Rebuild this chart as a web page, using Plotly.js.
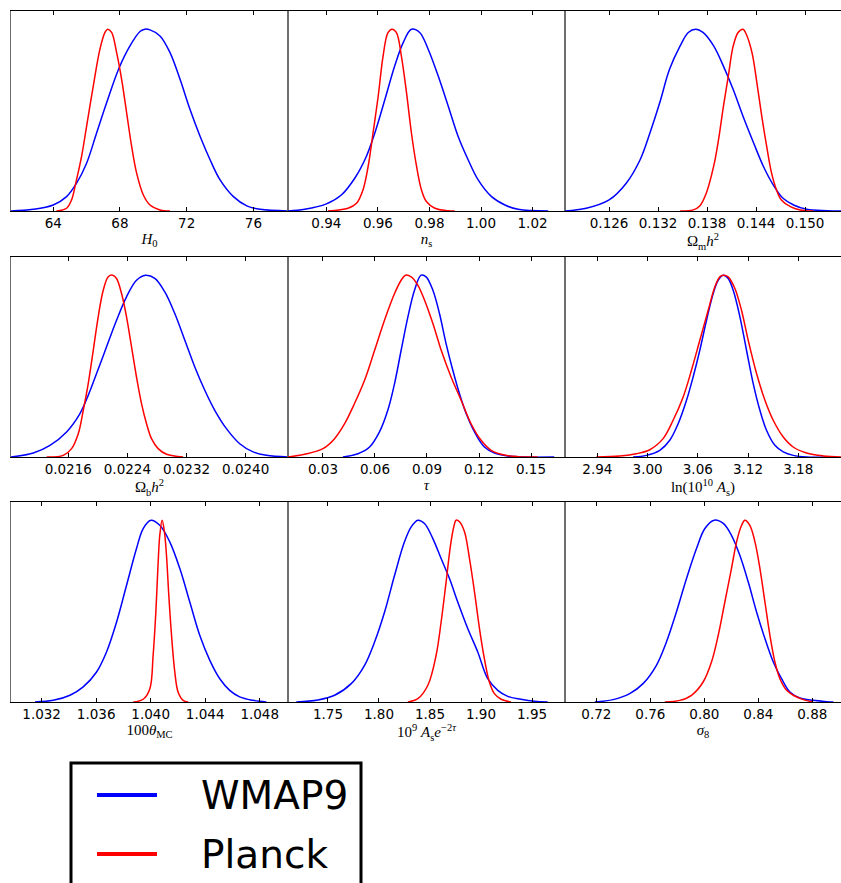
<!DOCTYPE html>
<html><head><meta charset="utf-8">
<script src="https://cdn.plot.ly/plotly-3.0.1.min.js"></script>
<style>html,body{margin:0;padding:0;background:#fff;} #chart{width:841px;height:883px;}</style>
</head><body><div id="chart"></div>
<script>
// ---- Data (normalised 1D posteriors, peak = 1) ----
const seriesNames = ["WMAP9", "Planck"];

// H0
const h0WmapX = [61.46,62.8,64.0,64.8,65.4,66.0,66.6,67.2,67.94,68.6,69.2,69.5,69.8,70.4,71.0,71.6,72.2,72.8,73.4,74.0,74.8,75.6,76.4,78.1];
const h0WmapY = [0,0.009,0.033,0.079,0.153,0.263,0.429,0.595,0.785,0.908,0.987,1,0.996,0.963,0.871,0.724,0.558,0.411,0.282,0.171,0.079,0.028,0.009,0];
const h0PlanckX = [64.2,64.8,65.1,65.36,65.7,66.0,66.4,66.8,67.1,67.26,67.5,67.8,68.1,68.4,68.7,69.0,69.4,69.8,70.4,71.0];
const h0PlanckY = [0,0.015,0.061,0.157,0.300,0.466,0.687,0.890,0.982,1,0.982,0.871,0.724,0.540,0.355,0.208,0.088,0.033,0.006,0];
const h0Ticks = [64,68,72,76];

// n_s
const nsWmapX = [0.9251,0.9316,0.94,0.9458,0.9510,0.9555,0.9588,0.9627,0.9665,0.9698,0.9730,0.9762,0.9795,0.9834,0.9873,0.9911,0.9950,0.9989,1.0041,1.0093,1.0144,1.0261];
const nsWmapY = [0,0.009,0.039,0.088,0.180,0.300,0.429,0.613,0.797,0.926,1,0.982,0.890,0.742,0.576,0.411,0.282,0.171,0.079,0.033,0.009,0];
const nsPlanckX = [0.9406,0.9484,0.9517,0.9542,0.9562,0.9581,0.9601,0.9620,0.9639,0.9655,0.9672,0.9691,0.9711,0.9730,0.9750,0.9769,0.9788,0.9821,0.9873,0.9898];
const nsPlanckY = [0,0.015,0.042,0.116,0.245,0.429,0.631,0.852,0.981,1,0.981,0.852,0.650,0.429,0.245,0.116,0.052,0.015,0.002,0];
const nsTicks = [0.94,0.96,0.98,1.00,1.02];

// Omega_m h^2
const omWmapX = [0.1206,0.1232,0.1260,0.1281,0.1298,0.1310,0.1322,0.1334,0.1347,0.1357,0.1366,0.1375,0.1388,0.1400,0.1412,0.1424,0.1437,0.1449,0.1461,0.1473,0.1486,0.1502,0.1527,0.1544];
const omWmapY = [0,0.015,0.061,0.153,0.282,0.429,0.595,0.779,0.908,0.982,1,0.982,0.908,0.797,0.668,0.521,0.374,0.245,0.144,0.070,0.033,0.009,0.002,0];
const omPlanckX = [0.1347,0.1363,0.1371,0.1379,0.1388,0.1394,0.1400,0.1406,0.1412,0.1418,0.1424,0.1428,0.1435,0.1441,0.1447,0.1453,0.1459,0.1465,0.1471,0.1482,0.1494,0.1510];
const omPlanckY = [0,0.006,0.028,0.098,0.245,0.392,0.576,0.742,0.908,0.982,1,0.972,0.871,0.705,0.521,0.355,0.208,0.116,0.061,0.024,0.006,0];
const omTicks = [0.126,0.132,0.138,0.144,0.150];

// Omega_b h^2
const obWmapX = [0.020825,0.021127,0.021352,0.021577,0.021758,0.021870,0.021983,0.022118,0.022253,0.022388,0.022523,0.022645,0.022771,0.022906,0.023041,0.023177,0.023312,0.023447,0.023582,0.023740,0.023920,0.024100,0.024280,0.024573];
const obWmapY = [0,0.022,0.064,0.138,0.239,0.339,0.459,0.606,0.752,0.881,0.972,1,0.982,0.908,0.789,0.642,0.495,0.367,0.257,0.156,0.073,0.028,0.009,0];
const obPlanckX = [0.021307,0.021532,0.021645,0.021735,0.021803,0.021870,0.021938,0.022005,0.022073,0.022141,0.022199,0.022253,0.022321,0.022388,0.022456,0.022523,0.022591,0.022659,0.022726,0.022816,0.022929,0.023154];
const obPlanckY = [0,0.009,0.046,0.128,0.257,0.404,0.587,0.771,0.917,0.991,1,0.982,0.899,0.771,0.606,0.440,0.294,0.183,0.101,0.046,0.015,0];
const obTicks = [0.0216,0.0224,0.0232,0.0240];

// tau
const tauWmapX = [0.0415,0.0502,0.0569,0.0626,0.0674,0.0713,0.0751,0.0790,0.0828,0.0866,0.0895,0.0934,0.0972,0.1010,0.1049,0.1087,0.1126,0.1174,0.1231,0.1289,0.1366,0.1462,0.1634];
const tauWmapY = [0,0.018,0.055,0.138,0.257,0.404,0.587,0.771,0.917,1,0.991,0.917,0.789,0.624,0.477,0.349,0.239,0.138,0.055,0.022,0.006,0,0];
const tauPlanckX = [0.0098,0.0194,0.0300,0.0367,0.0425,0.0482,0.0540,0.0598,0.0655,0.0713,0.0751,0.0776,0.0809,0.0847,0.0886,0.0934,0.0982,0.1039,0.1097,0.1154,0.1212,0.1270,0.1346,0.1423,0.1538];
const tauPlanckY = [0,0.015,0.046,0.101,0.183,0.294,0.422,0.587,0.752,0.899,0.972,1,0.991,0.945,0.862,0.734,0.587,0.440,0.312,0.183,0.092,0.037,0.011,0.002,0];
const tauTicks = [0.03,0.06,0.09,0.12,0.15];

// ln(10^10 A_s)
const lnaWmapX = [2.9827,2.9986,3.0146,3.0265,3.0365,3.0465,3.0544,3.0624,3.0704,3.0784,3.0843,3.0903,3.0963,3.1023,3.1103,3.1182,3.1262,3.1342,3.1421,3.1521,3.1621,3.1740,3.1900,3.2139];
const lnaWmapY = [0,0.009,0.037,0.092,0.183,0.312,0.440,0.587,0.752,0.899,0.972,1,0.982,0.917,0.771,0.587,0.404,0.257,0.147,0.064,0.028,0.009,0,0];
const lnaPlanckX = [2.9388,2.9667,2.9867,3.0026,3.0185,3.0305,3.0425,3.0524,3.0624,3.0724,3.0804,3.0863,3.0903,3.0963,3.1043,3.1122,3.1202,3.1302,3.1402,3.1501,3.1621,3.1740,3.1900,3.2099,3.2311];
const lnaPlanckY = [0,0.006,0.018,0.040,0.101,0.202,0.330,0.477,0.642,0.807,0.936,0.991,1,0.991,0.927,0.807,0.642,0.459,0.312,0.202,0.110,0.055,0.022,0.006,0];
const lnaTicks = [2.94,3.00,3.06,3.12,3.18];

// 100 theta_MC
const thWmapX = [1.03151,1.03285,1.03408,1.03505,1.03603,1.03676,1.03750,1.03823,1.03896,1.03945,1.04001,1.04067,1.04140,1.04214,1.04287,1.04360,1.04434,1.04507,1.04580,1.04653,1.04751,1.04849];
const thWmapY = [0,0.009,0.037,0.083,0.165,0.275,0.440,0.642,0.844,0.954,1,0.972,0.881,0.734,0.550,0.367,0.229,0.128,0.064,0.028,0.009,0];
const thPlanckX = [1.03872,1.03945,1.03994,1.04018,1.04038,1.04055,1.04067,1.04084,1.04101,1.04116,1.04133,1.04153,1.04177,1.04201,1.04238,1.04275];
const thPlanckY = [0,0.015,0.073,0.257,0.495,0.771,0.917,1,0.936,0.807,0.587,0.367,0.165,0.055,0.009,0];
const thTicks = [1.032,1.036,1.040,1.044,1.048];

// 10^9 A_s e^{-2tau}
const aeWmapX = [1.7190,1.7402,1.7565,1.7728,1.7859,1.7957,1.8055,1.8153,1.8250,1.8316,1.8381,1.8446,1.8528,1.8609,1.8691,1.8772,1.8870,1.8968,1.9066,1.9164,1.9262,1.9392,1.9523,1.9653];
const aeWmapY = [0,0.011,0.037,0.101,0.202,0.330,0.495,0.697,0.881,0.963,1,0.982,0.899,0.789,0.679,0.550,0.404,0.275,0.128,0.064,0.031,0.015,0.004,0];
const aePlanckX = [1.8283,1.8381,1.8479,1.8560,1.8609,1.8658,1.8701,1.8733,1.8756,1.8789,1.8838,1.8887,1.8936,1.8985,1.9033,1.9082,1.9131,1.9197,1.9294];
const aePlanckY = [0,0.018,0.092,0.257,0.440,0.661,0.862,0.963,1,0.991,0.936,0.789,0.606,0.404,0.239,0.110,0.046,0.015,0];
const aeTicks = [1.75,1.80,1.85,1.90,1.95];

// sigma_8
const s8WmapX = [0.7188,0.7324,0.7447,0.7546,0.7645,0.7719,0.7793,0.7868,0.7942,0.8004,0.8073,0.8140,0.8201,0.8263,0.8325,0.8387,0.8449,0.8511,0.8572,0.8634,0.8708,0.8807,0.8906,0.8956];
const s8WmapY = [0,0.013,0.046,0.101,0.202,0.330,0.495,0.679,0.844,0.954,1,0.982,0.917,0.807,0.661,0.495,0.349,0.220,0.128,0.055,0.022,0.009,0.002,0];
const s8PlanckX = [0.7707,0.7818,0.7905,0.7991,0.8053,0.8103,0.8152,0.8201,0.8239,0.8276,0.8300,0.8337,0.8375,0.8412,0.8449,0.8486,0.8523,0.8560,0.8610,0.8659,0.8733,0.8807];
const s8PlanckY = [0,0.009,0.037,0.110,0.220,0.367,0.550,0.734,0.881,0.972,1,0.972,0.881,0.734,0.550,0.367,0.220,0.128,0.064,0.037,0.013,0];
const s8Ticks = [0.72,0.76,0.80,0.84,0.88];

const axisLabels = [
  "<i>H</i><sub>0</sub>",
  "<i>n</i><sub>s</sub>",
  "Ω<sub>m</sub><i>h</i><sup>2</sup>",
  "Ω<sub>b</sub><i>h</i><sup>2</sup>",
  "<i>τ</i>",
  "ln(10<sup>10</sup> <i>A</i><sub>s</sub>)",
  "100<i>θ</i><sub>MC</sub>",
  "10<sup>9</sup> <i>A</i><sub>s</sub><i>e</i><sup>−2<i>τ</i></sup>",
  "<i>σ</i><sub>8</sub>"
];

// ---- Build traces / layout ----
const panels = [
  {wx:h0WmapX, wy:h0WmapY, px:h0PlanckX, py:h0PlanckY, ticks:h0Ticks, fmt:"d"},
  {wx:nsWmapX, wy:nsWmapY, px:nsPlanckX, py:nsPlanckY, ticks:nsTicks, fmt:".2f"},
  {wx:omWmapX, wy:omWmapY, px:omPlanckX, py:omPlanckY, ticks:omTicks, fmt:".3f"},
  {wx:obWmapX, wy:obWmapY, px:obPlanckX, py:obPlanckY, ticks:obTicks, fmt:".4f"},
  {wx:tauWmapX, wy:tauWmapY, px:tauPlanckX, py:tauPlanckY, ticks:tauTicks, fmt:".2f"},
  {wx:lnaWmapX, wy:lnaWmapY, px:lnaPlanckX, py:lnaPlanckY, ticks:lnaTicks, fmt:".2f"},
  {wx:thWmapX, wy:thWmapY, px:thPlanckX, py:thPlanckY, ticks:thTicks, fmt:".3f"},
  {wx:aeWmapX, wy:aeWmapY, px:aePlanckX, py:aePlanckY, ticks:aeTicks, fmt:".2f"},
  {wx:s8WmapX, wy:s8WmapY, px:s8PlanckX, py:s8PlanckY, ticks:s8Ticks, fmt:".2f"}
];
const xRanges = [
  [61.47,78.07],[0.9251,1.0326],[0.1206,0.1544],
  [0.020825,0.024573],[0.00984,0.1696],[2.9013,3.2311],
  [1.029753,1.050075],[1.71085,1.9823],[0.69676,0.90126]
];
const W = 841, H = 883;
const colPx = [[11,288],[288,565],[565,841]];
const rowPx = [[11,211],[257,457],[502,702]];
const colors = ["#0000ff", "#ff0000"];

const traces = [];
const layout = {
  width: W, height: H,
  margin: {l:0, r:0, t:0, b:0},
  paper_bgcolor: "#ffffff", plot_bgcolor: "#ffffff",
  showlegend: false,
  font: {family: "DejaVu Sans", color: "#000"},
  shapes: [],
  annotations: []
};

panels.forEach((p, i) => {
  const n = i + 1;
  const xa = n === 1 ? "x" : "x" + n;
  const ya = n === 1 ? "y" : "y" + n;
  traces.push({x: p.wx, y: p.wy, xaxis: xa, yaxis: ya, type: "scatter", mode: "lines", name: seriesNames[0],
    line: {color: colors[0], width: 1.5, shape: "spline", smoothing: 1}, hoverinfo: "skip"});
  traces.push({x: p.px, y: p.py, xaxis: xa, yaxis: ya, type: "scatter", mode: "lines", name: seriesNames[1],
    line: {color: colors[1], width: 1.5, shape: "spline", smoothing: 1}, hoverinfo: "skip"});
  const r = Math.floor(i / 3), c = i % 3;
  const xk = n === 1 ? "xaxis" : "xaxis" + n;
  const yk = n === 1 ? "yaxis" : "yaxis" + n;
  layout[xk] = {
    domain: [colPx[c][0]/W, colPx[c][1]/W], anchor: ya, range: xRanges[i],
    tickvals: p.ticks, tickformat: p.fmt, ticks: "inside", ticklen: 4, tickwidth: 1, tickcolor: "#000",
    showline: true, linecolor: "#000", linewidth: 1, mirror: "allticks",
    showgrid: false, zeroline: false,
    tickfont: {family: "DejaVu Sans", size: 13.5, color: "#000"},
    title: {text: axisLabels[i], font: {family: "Liberation Serif", size: 15, color: "#000"}, standoff: 3},
    automargin: false, fixedrange: true
  };
  layout[yk] = {
    domain: [1 - rowPx[r][1]/H, 1 - rowPx[r][0]/H], anchor: xa, range: [0, 1.1],
    showticklabels: false, ticks: "", showline: true, linecolor: "#6e6e6e", linewidth: 1, mirror: true,
    showgrid: false, zeroline: false, automargin: false, fixedrange: true
  };
});

// ---- Legend box (drawn in paper coordinates) ----
const legBox = {x0: 71, x1: 361, y0: 763, y1: 895};
layout.shapes.push({type: "rect", xref: "paper", yref: "paper",
  x0: legBox.x0/W, x1: legBox.x1/W, y0: 1 - legBox.y1/H, y1: 1 - legBox.y0/H,
  line: {color: "#000", width: 3}, fillcolor: "#ffffff", layer: "above"});
const legRows = [795, 854];
seriesNames.forEach((name, k) => {
  const yy = 1 - legRows[k]/H;
  layout.shapes.push({type: "line", xref: "paper", yref: "paper",
    x0: 97/W, x1: 157/W, y0: yy, y1: yy, line: {color: colors[k], width: 4}, layer: "above"});
  layout.annotations.push({xref: "paper", yref: "paper", x: 199/W, y: yy, xanchor: "left", yanchor: "middle",
    text: name, showarrow: false, font: {family: "DejaVu Sans", size: 39, color: "#000"}});
});

Plotly.newPlot("chart", traces, layout, {displayModeBar: false, staticPlot: true});
</script>
</body></html>
